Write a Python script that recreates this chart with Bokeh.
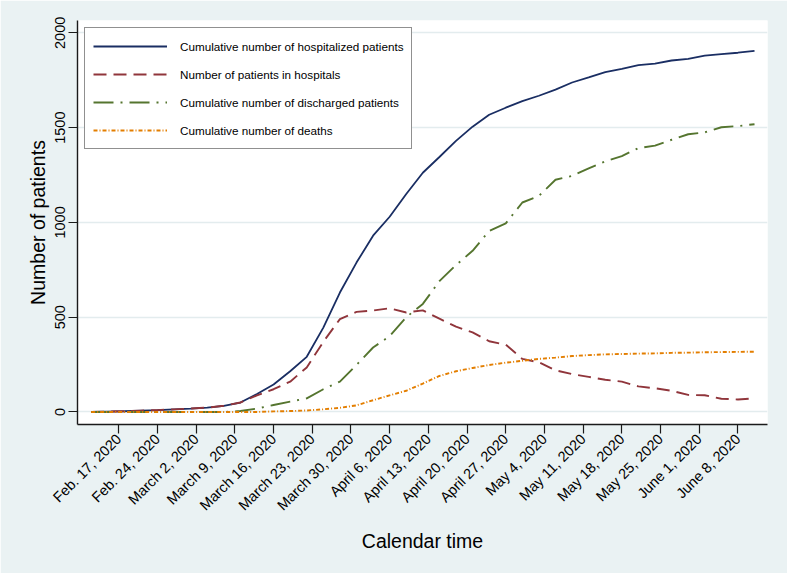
import pandas as pd
from bokeh.plotting import figure
from bokeh.models import Range1d, FixedTicker, Legend, LegendItem, ColumnDataSource
from bokeh.embed import file_html
from bokeh.resources import INLINE

# ---------------- data ----------------
dates = ["2020-02-12", "2020-02-15", "2020-02-18", "2020-02-21", "2020-02-24",
         "2020-02-27", "2020-03-01", "2020-03-04", "2020-03-07", "2020-03-10",
         "2020-03-13", "2020-03-16", "2020-03-19", "2020-03-22", "2020-03-25",
         "2020-03-28", "2020-03-31", "2020-04-03", "2020-04-06", "2020-04-09",
         "2020-04-12", "2020-04-15", "2020-04-18", "2020-04-21", "2020-04-24",
         "2020-04-27", "2020-04-30", "2020-05-03", "2020-05-06", "2020-05-09",
         "2020-05-12", "2020-05-15", "2020-05-18", "2020-05-21", "2020-05-24",
         "2020-05-27", "2020-05-30", "2020-06-02", "2020-06-05", "2020-06-08",
         "2020-06-11"]

hospitalized = [0, 2, 4, 7, 10, 14, 18, 23, 32, 50, 95, 145, 215, 291, 445, 630,
                788, 930, 1030, 1150, 1262, 1345, 1430, 1505, 1568, 1605, 1640,
                1668, 1700, 1738, 1765, 1793, 1810, 1830, 1838, 1854, 1863, 1880,
                1888, 1895, 1905]

in_hospital = [0, 2, 4, 7, 10, 14, 18, 23, 33, 50, 88, 120, 160, 235, 370, 490,
               528, 535, 547, 525, 536, 492, 450, 420, 373, 355, 280, 262, 220,
               200, 185, 170, 160, 135, 125, 112, 90, 88, 70, 66, 72]

discharged = [0, 0, 0, 0, 0, 0, 0, 0, 0, 5, 18, 37, 55, 72, 120, 160, 248, 340,
              400, 500, 570, 690, 775, 850, 955, 995, 1105, 1140, 1225, 1245,
              1285, 1322, 1350, 1392, 1405, 1436, 1465, 1475, 1502, 1508, 1518]

deaths = [0, 0, 0, 0, 0, 0, 0, 0, 0, 0, 0, 3, 5, 8, 14, 22, 35, 62, 88, 112,
          150, 190, 215, 232, 248, 260, 270, 280, 287, 295, 300, 304, 306, 308,
          309, 312, 313, 315, 316, 317, 318]

tick_dates = ["2020-02-17", "2020-02-24", "2020-03-02", "2020-03-09", "2020-03-16",
              "2020-03-23", "2020-03-30", "2020-04-06", "2020-04-13", "2020-04-20",
              "2020-04-27", "2020-05-04", "2020-05-11", "2020-05-18", "2020-05-25",
              "2020-06-01", "2020-06-08"]
tick_labels = ["Feb. 17, 2020", "Feb. 24, 2020", "March 2, 2020", "March 9, 2020",
               "March 16, 2020", "March 23, 2020", "March 30, 2020", "April 6, 2020",
               "April 13, 2020", "April 20, 2020", "April 27, 2020", "May 4, 2020",
               "May 11, 2020", "May 18, 2020", "May 25, 2020", "June 1, 2020",
               "June 8, 2020"]
y_ticks = [0, 500, 1000, 1500, 2000]

series_labels = ["Cumulative number of hospitalized patients",
                 "Number of patients in hospitals",
                 "Cumulative number of discharged patients",
                 "Cumulative number of deaths"]

# ---------------- figure ----------------
FONT = "Liberation Sans"
DAY = 86400000.0
t0 = pd.Timestamp("2020-02-17").value / 1e6
x_start = t0 - 7.47 * DAY
x_end = t0 + 117.35 * DAY

src = ColumnDataSource(dict(date=pd.to_datetime(dates), hosp=hospitalized,
                            inh=in_hospital, dis=discharged, dea=deaths))

p = figure(width=787, height=573, x_axis_type="datetime",
           output_backend="svg", toolbar_location=None,
           x_range=Range1d(x_start, x_end), y_range=Range1d(-66, 2065),
           min_border_left=77, min_border_right=20, min_border_top=20,
           min_border_bottom=149)
p.background_fill_color = "white"
p.border_fill_color = "#EAF2F3"
p.outline_line_color = None

r1 = p.line("date", "hosp", source=src, line_color="#1a2e63", line_width=1.8)
r2 = p.line("date", "inh", source=src, line_color="#90353b", line_width=1.9,
            line_dash="13 7")
r3 = p.line("date", "dis", source=src, line_color="#55752f", line_width=1.9,
            line_dash="20 7 2 7")
r4 = p.line("date", "dea", source=src, line_color="#e37e00", line_width=1.9,
            line_dash="4 2 1 2")

# grid
p.xgrid.visible = False
p.ygrid.grid_line_color = "#E3ECEE"
p.ygrid.grid_line_width = 1.5
p.ygrid.ticker = FixedTicker(ticks=y_ticks)

# x axis
tick_ms = [pd.Timestamp(d).value / 1e6 for d in tick_dates]
xa = p.xaxis[0]
xa.ticker = FixedTicker(ticks=tick_ms)
xa.major_label_overrides = {float(t): lab for t, lab in zip(tick_ms, tick_labels)}
xa.major_label_orientation = 0.785398
xa.axis_label = "Calendar time"

# y axis
ya = p.yaxis[0]
ya.ticker = FixedTicker(ticks=y_ticks)
ya.major_label_orientation = "vertical"
ya.axis_label = "Number of patients"

for ax in (xa, ya):
    ax.axis_line_color = "#1a1a1a"
    ax.axis_line_width = 1.4
    ax.major_tick_line_color = "#1a1a1a"
    ax.major_tick_line_width = 1.2
    ax.major_tick_out = 9
    ax.major_tick_in = 0
    ax.minor_tick_out = 0
    ax.minor_tick_in = 0
    ax.major_label_text_font = FONT
    ax.major_label_text_font_size = "14.5px"
    ax.major_label_text_color = "black"
    ax.axis_label_text_font = FONT
    ax.axis_label_text_font_style = "normal"
    ax.axis_label_text_font_size = "19.5px"
    ax.axis_label_text_color = "black"
xa.major_label_standoff = 3
xa.axis_label_standoff = 8
ya.major_label_standoff = 3
ya.axis_label_standoff = 4

legend = Legend(items=[LegendItem(label=series_labels[0], renderers=[r1]),
                       LegendItem(label=series_labels[1], renderers=[r2]),
                       LegendItem(label=series_labels[2], renderers=[r3]),
                       LegendItem(label=series_labels[3], renderers=[r4])],
                location="top_left")
legend.margin = 7
legend.padding = 8
legend.spacing = 8
legend.glyph_width = 74
legend.glyph_height = 20
legend.label_height = 20
legend.label_standoff = 13
legend.label_text_font = FONT
legend.label_text_font_size = "11.7px"
legend.label_text_color = "black"
legend.border_line_color = "#222222"
legend.border_line_width = 1.3
legend.background_fill_color = "white"
legend.background_fill_alpha = 1.0
p.add_layout(legend, "center")

open("out.html", "w").write(file_html(p, INLINE))
